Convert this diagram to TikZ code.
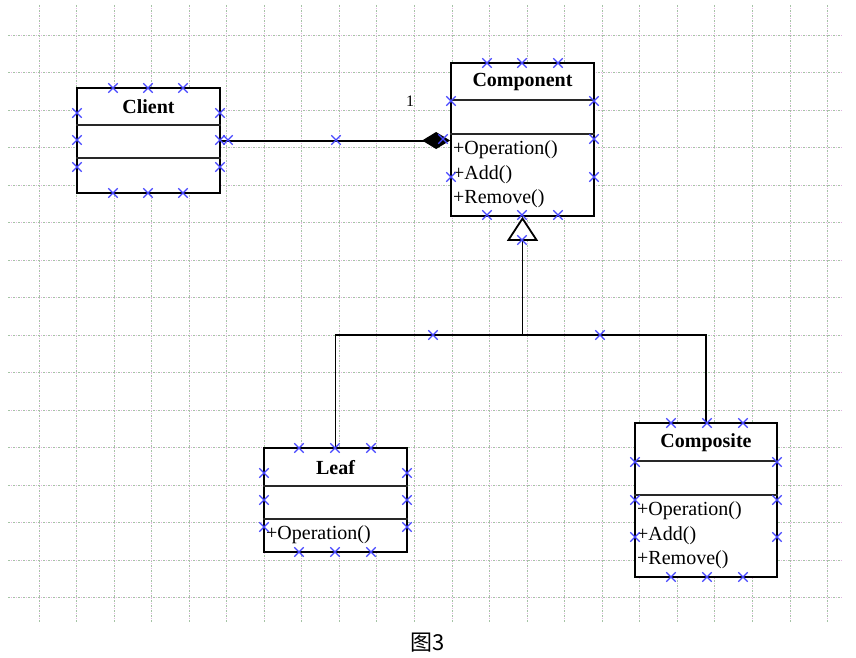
\documentclass[tikz,border=0pt]{standalone}
\usepackage{fontspec}
\setmainfont{Liberation Serif}
\newfontfamily\cjk{Noto Sans CJK SC}
\usetikzlibrary{arrows.meta,shapes.misc}

\begin{document}
\begin{tikzpicture}[
      x=1pt, y=-1pt,
      inner sep=0pt,
      gridg/.style={draw={rgb,255:red,165;green,195;blue,165}, line width=1pt, dash pattern=on 1.5pt off 3.5pt},
      gridp/.style={draw={rgb,255:red,225;green,180;blue,225}, line width=1pt, dash pattern=on 1pt off 4pt, dash phase=2.5pt},
      cls/.style={draw, fill=white, line width=1.8pt, rectangle},
      sep/.style={line width=2.2pt, draw={rgb,255:red,40;green,40;blue,40}},
      ttl/.style={font=\bfseries\fontsize{20}{20}\selectfont},
      op/.style={font=\fontsize{20}{20}\selectfont, anchor=west},
      handle/.style={cross out, draw={rgb,255:red,70;green,70;blue,255}, minimum size=8pt, line width=1.3pt}
    ]
    \useasboundingbox (0,0) rectangle (856,657);
    % grid
    \foreach \i in {0,...,21} {
      \draw[gridg] (39+37.55*\i,5) -- (39+37.55*\i,622);
      \draw[gridp] (39+37.55*\i,5) -- (39+37.55*\i,622);
    }
    \foreach \j in {0,...,15} {
      \draw[gridg] (8,35+37.53*\j) -- (843,35+37.53*\j);
      \draw[gridp] (8,35+37.53*\j) -- (843,35+37.53*\j);
    }

    % classes
    \node (client) [cls, minimum width=143pt, minimum height=105pt] at (148.5,140.5) {};
    \node (component) [cls, minimum width=143pt, minimum height=153pt] at (522.5,139.5) {};
    \node (leaf) [cls, minimum width=143pt, minimum height=104pt] at (335.5,500) {};
    \node (composite) [cls, minimum width=142pt, minimum height=154pt] at (706,500) {};

    \foreach \c/\a/\b in {client/38/71, component/38/72, leaf/39/72, composite/39/73} {
      \draw[sep] ([yshift=-\a pt]\c.north west) -- ([yshift=-\a pt]\c.north east);
      \draw[sep] ([yshift=-\b pt]\c.north west) -- ([yshift=-\b pt]\c.north east);
    }

    \node (clientname) [ttl] at ([yshift=-20pt]client.north) {Client};
    \node (componentname) [ttl] at ([yshift=-20pt]component.north) {Component};
    \node (leafname) [ttl] at ([yshift=-20pt]leaf.north) {Leaf};
    \node (compositename) [ttl] at ([yshift=-21pt]composite.north) {Composite};

    \node (compop) [op] at (453,150) {+Operation()};
    \node (compadd) [op] at (453,175) {+Add()};
    \node (comprem) [op] at (453,199) {+Remove()};
    \node (leafop) [op] at (266,535) {+Operation()};
    \node (compositeop) [op] at (637,511) {+Operation()};
    \node (compositeadd) [op] at (637,536) {+Add()};
    \node (compositerem) [op] at (637,560) {+Remove()};

    % relations
    \draw[line width=2pt, -{Diamond[length=28pt,width=17pt]}] (client.east) -- (client.east -| component.west);
    \node (mult) at (410,101) {\fontsize{16}{16}\selectfont 1};

    \coordinate (join) at (522.5,335);
    \draw[line width=1.8pt, -{Triangle[open,fill=white,length=24pt,width=31pt]}] (join) -- (component.south);
    \draw[line width=1.8pt] (leaf.north) |- (join) -| (composite.north);

    % handles
    \foreach \hx/\hy [count=\k] in {113/88,148/88,183/88,113/193,148/193,183/193,77/113,77/140,77/167,220/113,220/140,220/167,228/140,
        336/140,
        487/63,522/63,558/63,487/215,522/215,558/215,451/101,443/139,451/177,594/101,594/139,594/177,522/240,
        433/335,600/335,
        299/448,335/448,371/448,299/552,335/552,371/552,264/473,264/500,264/527,407/473,407/500,407/527,
        671/423,707/423,743/423,671/577,707/577,743/577,635/462,635/500,635/537,777/462,777/500,777/537}
      \node (hd\k) [handle] at (\hx,\hy) {};

    \node (caption) at (428,643) {\cjk\fontsize{22}{22}\selectfont 图3};
  \end{tikzpicture}
\end{document}
